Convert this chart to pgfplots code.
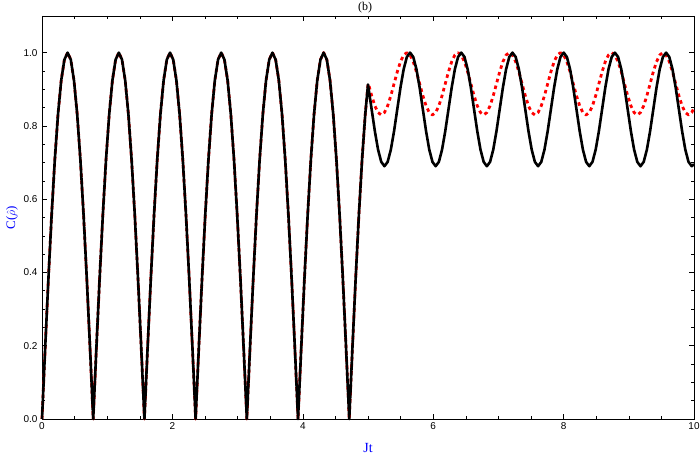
\documentclass[border=0pt]{standalone}
\usepackage{fontspec}
\setmainfont{Liberation Serif}
\newfontfamily\tickfont{Liberation Sans}
\usepackage{pgfplots}
\usepackage{pgfplotstable}
\pgfplotsset{compat=1.18}
\pgfplotstableread{
t b r
0.0000 0 0
0.0491 0.1951 0.1951
0.0982 0.3827 0.3827
0.1473 0.5556 0.5556
0.1963 0.7071 0.7071
0.2454 0.8315 0.8315
0.2945 0.9239 0.9239
0.3436 0.9808 0.9808
0.3927 1 1
0.4418 0.9808 0.9808
0.4909 0.9239 0.9239
0.5400 0.8315 0.8315
0.5890 0.7071 0.7071
0.6381 0.5556 0.5556
0.6872 0.3827 0.3827
0.7363 0.1951 0.1951
0.7854 0 0
0.8345 0.1951 0.1951
0.8836 0.3827 0.3827
0.9327 0.5556 0.5556
0.9817 0.7071 0.7071
1.0308 0.8315 0.8315
1.0799 0.9239 0.9239
1.1290 0.9808 0.9808
1.1781 1 1
1.2272 0.9808 0.9808
1.2763 0.9239 0.9239
1.3254 0.8315 0.8315
1.3744 0.7071 0.7071
1.4235 0.5556 0.5556
1.4726 0.3827 0.3827
1.5217 0.1951 0.1951
1.5708 0 0
1.6199 0.1951 0.1951
1.6690 0.3827 0.3827
1.7181 0.5556 0.5556
1.7671 0.7071 0.7071
1.8162 0.8315 0.8315
1.8653 0.9239 0.9239
1.9144 0.9808 0.9808
1.9635 1 1
2.0126 0.9808 0.9808
2.0617 0.9239 0.9239
2.1108 0.8315 0.8315
2.1598 0.7071 0.7071
2.2089 0.5556 0.5556
2.2580 0.3827 0.3827
2.3071 0.1951 0.1951
2.3562 0 0
2.4053 0.1951 0.1951
2.4544 0.3827 0.3827
2.5035 0.5556 0.5556
2.5525 0.7071 0.7071
2.6016 0.8315 0.8315
2.6507 0.9239 0.9239
2.6998 0.9808 0.9808
2.7489 1 1
2.7980 0.9808 0.9808
2.8471 0.9239 0.9239
2.8962 0.8315 0.8315
2.9452 0.7071 0.7071
2.9943 0.5556 0.5556
3.0434 0.3827 0.3827
3.0925 0.1951 0.1951
3.1416 0 0
3.1907 0.1951 0.1951
3.2398 0.3827 0.3827
3.2889 0.5556 0.5556
3.3379 0.7071 0.7071
3.3870 0.8315 0.8315
3.4361 0.9239 0.9239
3.4852 0.9808 0.9808
3.5343 1 1
3.5834 0.9808 0.9808
3.6325 0.9239 0.9239
3.6816 0.8315 0.8315
3.7306 0.7071 0.7071
3.7797 0.5556 0.5556
3.8288 0.3827 0.3827
3.8779 0.1951 0.1951
3.9270 0 0
3.9761 0.1951 0.1951
4.0252 0.3827 0.3827
4.0743 0.5556 0.5556
4.1233 0.7071 0.7071
4.1724 0.8315 0.8315
4.2215 0.9239 0.9239
4.2706 0.9808 0.9808
4.3197 1 1
4.3688 0.9808 0.9808
4.4179 0.9239 0.9239
4.4670 0.8315 0.8315
4.5160 0.7071 0.7071
4.5651 0.5556 0.5556
4.6142 0.3827 0.3827
4.6633 0.1951 0.1951
4.7124 0 0
4.7615 0.1951 0.1951
4.8106 0.3827 0.3827
4.8597 0.5556 0.5556
4.9087 0.7071 0.7071
4.9578 0.8315 0.8315
5.0000 0.9129 0.9129
5.0069 0.9043 0.915
5.0560 0.845 0.8825
5.1051 0.7857 0.8549
5.1542 0.7354 0.8365
5.2033 0.7018 0.83
5.2524 0.69 0.8365
5.3014 0.7018 0.8549
5.3505 0.7354 0.8825
5.3996 0.7857 0.915
5.4487 0.845 0.9475
5.4978 0.9043 0.9751
5.5469 0.9546 0.9935
5.5960 0.9882 1
5.6450 1 0.9935
5.6941 0.9882 0.9751
5.7432 0.9546 0.9475
5.7923 0.9043 0.915
5.8414 0.845 0.8825
5.8905 0.7857 0.8549
5.9396 0.7354 0.8365
5.9887 0.7018 0.83
6.0377 0.69 0.8365
6.0868 0.7018 0.8549
6.1359 0.7354 0.8825
6.1850 0.7857 0.915
6.2341 0.845 0.9475
6.2832 0.9043 0.9751
6.3323 0.9546 0.9935
6.3814 0.9882 1
6.4304 1 0.9935
6.4795 0.9882 0.9751
6.5286 0.9546 0.9475
6.5777 0.9043 0.915
6.6268 0.845 0.8825
6.6759 0.7857 0.8549
6.7250 0.7354 0.8365
6.7741 0.7018 0.83
6.8231 0.69 0.8365
6.8722 0.7018 0.8549
6.9213 0.7354 0.8825
6.9704 0.7857 0.915
7.0195 0.845 0.9475
7.0686 0.9043 0.9751
7.1177 0.9546 0.9935
7.1668 0.9882 1
7.2158 1 0.9935
7.2649 0.9882 0.9751
7.3140 0.9546 0.9475
7.3631 0.9043 0.915
7.4122 0.845 0.8825
7.4613 0.7857 0.8549
7.5104 0.7354 0.8365
7.5595 0.7018 0.83
7.6085 0.69 0.8365
7.6576 0.7018 0.8549
7.7067 0.7354 0.8825
7.7558 0.7857 0.915
7.8049 0.845 0.9475
7.8540 0.9043 0.9751
7.9031 0.9546 0.9935
7.9522 0.9882 1
8.0012 1 0.9935
8.0503 0.9882 0.9751
8.0994 0.9546 0.9475
8.1485 0.9043 0.915
8.1976 0.845 0.8825
8.2467 0.7857 0.8549
8.2958 0.7354 0.8365
8.3449 0.7018 0.83
8.3939 0.69 0.8365
8.4430 0.7018 0.8549
8.4921 0.7354 0.8825
8.5412 0.7857 0.915
8.5903 0.845 0.9475
8.6394 0.9043 0.9751
8.6885 0.9546 0.9935
8.7376 0.9882 1
8.7866 1 0.9935
8.8357 0.9882 0.9751
8.8848 0.9546 0.9475
8.9339 0.9043 0.915
8.9830 0.845 0.8825
9.0321 0.7857 0.8549
9.0812 0.7354 0.8365
9.1303 0.7018 0.83
9.1793 0.69 0.8365
9.2284 0.7018 0.8549
9.2775 0.7354 0.8825
9.3266 0.7857 0.915
9.3757 0.845 0.9475
9.4248 0.9043 0.9751
9.4739 0.9546 0.9935
9.5230 0.9882 1
9.5720 1 0.9935
9.6211 0.9882 0.9751
9.6702 0.9546 0.9475
9.7193 0.9043 0.915
9.7684 0.845 0.8825
9.8175 0.7857 0.8549
9.8666 0.7354 0.8365
9.9157 0.7018 0.83
9.9647 0.69 0.8365
10.0000 0.6957 0.8486
}\datatable
\begin{document}
\begin{tikzpicture}
\begin{axis}[
  at={(0,0)}, anchor=south west,
  scale only axis,
  width=652bp, height=403bp,
  xmin=0, xmax=10, ymin=0, ymax=1.1,
  xtick={0,2,4,6,8,10},
  ytick={0,0.2,0.4,0.6,0.8,1.0},
  minor x tick num=3,
  minor y tick num=3,
  tick align=inside,
  major tick length=5bp,
  minor tick length=3bp,
  tick style={black, line width=0.6bp},
  axis line style={line width=0.8bp},
  /pgf/number format/assume math mode=true,
  ticklabel style={font=\tickfont\fontsize{10}{11}\selectfont},
  y tick label style={/pgf/number format/.cd, fixed, fixed zerofill, precision=1},
  x tick label style={/pgf/number format/.cd, fixed, precision=0},
  xticklabel shift=0bp,
  yticklabel shift=1bp,
  xlabel={\textcolor{blue}{Jt}},
  every axis x label/.style={at={(axis description cs:0.5,-0.071)}, anchor=center, font=\fontsize{14}{16}\selectfont},
  title={(b)},
  every axis title/.style={at={(axis description cs:0.4955,1.021)}, anchor=center, font=\fontsize{12}{14}\selectfont},
  clip=false,
]
\addplot[red, line width=2.8bp, dash pattern=on 3.5bp off 3.5bp, line join=round] table[x=t, y=r] {\datatable};
\addplot[black, line width=2.6bp, line join=round] table[x=t, y=b] {\datatable};
\node[xshift=-30bp, rotate=90, anchor=center, text=blue, font=\fontsize{13}{15}\selectfont] at (rel axis cs:0,0.5) {C($\hat{\rho}$)};
\end{axis}
\pgfresetboundingbox
\path (-42bp,-38bp) rectangle (658bp,419bp);
\end{tikzpicture}
\end{document}
